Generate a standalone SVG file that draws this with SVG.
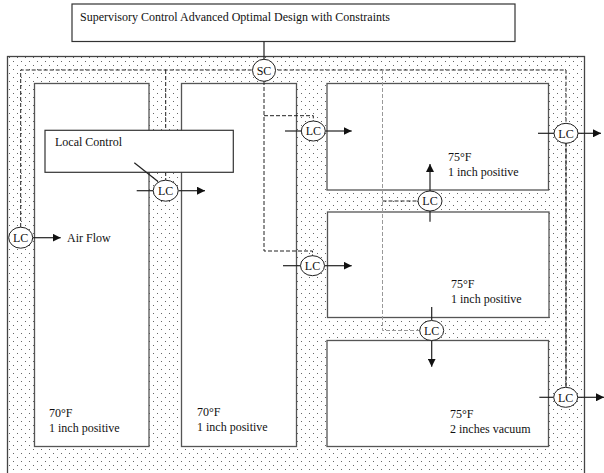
<svg xmlns="http://www.w3.org/2000/svg" width="604" height="473" viewBox="0 0 604 473">
<style>
text{font-family:"Liberation Serif","Times New Roman",serif;font-size:12px;fill:#111}
.c{text-anchor:middle}
.box{fill:#fff;stroke:#555;stroke-width:1.3}
.ctl{fill:#fff;stroke:#333;stroke-width:1.2}
.dash{fill:none;stroke:#222;stroke-width:1;stroke-dasharray:4,2}
.gdash{fill:none;stroke:#999;stroke-width:1;stroke-dasharray:4,2}
.ln{fill:none;stroke:#222;stroke-width:1.2}
.arr{fill:none;stroke:#222;stroke-width:1.2;marker-end:url(#ah)}
.node{fill:#fff;stroke:#222;stroke-width:1}
</style>
<defs>
<pattern id="dots" x="0" y="0" width="8" height="8" patternUnits="userSpaceOnUse">
<rect x="1" y="1" width="1" height="1" fill="#666"/>
<rect x="5" y="5" width="1" height="1" fill="#666"/>
</pattern>
<marker id="ah" viewBox="0 0 10 10" refX="10" refY="5" markerWidth="8" markerHeight="8" markerUnits="userSpaceOnUse" orient="auto">
<path d="M0,0 L10,5 L0,10 Z" fill="#111"/>
</marker>
</defs>

<g id="supervisory">
<rect class="ctl" x="72" y="4" width="443" height="37.5"/>
<text x="80" y="21">Supervisory Control Advanced Optimal Design with Constraints</text>
</g>

<g id="building">
<rect x="7.5" y="56.5" width="577" height="440" fill="url(#dots)" stroke="#444" stroke-width="1.3"/>
</g>

<g id="zone1">
<rect class="box" x="34.5" y="83.5" width="114.5" height="363"/>
<text x="49" y="417">70°F</text>
<text x="49" y="432">1 inch positive</text>
</g>
<g id="zone2">
<rect class="box" x="181.5" y="83.5" width="115" height="363"/>
<text x="197" y="415.5">70°F</text>
<text x="197" y="431">1 inch positive</text>
</g>
<g id="zone3">
<rect class="box" x="327" y="83.5" width="221.5" height="106.5"/>
<text x="448" y="160.5">75°F</text>
<text x="448" y="175.5">1 inch positive</text>
</g>
<g id="zone4">
<rect class="box" x="327.5" y="212" width="221.5" height="105.5"/>
<text x="451" y="288">75°F</text>
<text x="451" y="303">1 inch positive</text>
</g>
<g id="zone5">
<rect class="box" x="327" y="340.5" width="221.5" height="106"/>
<text x="450" y="418">75°F</text>
<text x="450" y="432.5">2 inches vacuum</text>
</g>

<g id="connectors">
<line class="ln" x1="264" y1="41.5" x2="264" y2="59"/>
<path class="dash" d="M20.7,227 V70 H566 V387"/>
<path class="dash" d="M165.7,70 V180"/>
<path class="dash" d="M264,81 V251 H312.5 V256"/>
<path class="dash" d="M264,115.7 H313.3 V121"/>
<path class="gdash" d="M382.5,70 V330.5 H420"/>
<path class="dash" d="M382.5,201 H418"/>
<path class="dash" d="M566,143 V387"/>
</g>

<g id="local-control">
<rect class="ctl" x="45" y="130.3" width="188.3" height="42"/>
<text x="55" y="146">Local Control</text>
</g>

<g id="flows">
<line class="ln" x1="134.3" y1="162.7" x2="158" y2="181.5"/>
<line class="ln" x1="136.7" y1="190.7" x2="153" y2="190.7"/>
<line class="arr" x1="178.5" y1="190.7" x2="205" y2="190.7"/>
<line class="arr" x1="32.7" y1="237.7" x2="60.7" y2="237.7"/>
<text x="67" y="242">Air Flow</text>
<line class="ln" x1="285" y1="131" x2="301" y2="131"/>
<line class="arr" x1="325.5" y1="131" x2="351.7" y2="131"/>
<line class="ln" x1="538" y1="133.3" x2="554" y2="133.3"/>
<line class="arr" x1="578" y1="133.3" x2="601" y2="133.3"/>
<line class="ln" x1="430" y1="211" x2="430" y2="221.7"/>
<line class="arr" x1="430" y1="191" x2="430" y2="164"/>
<line class="ln" x1="283" y1="265.7" x2="300.5" y2="265.7"/>
<line class="arr" x1="324.5" y1="265.7" x2="351.7" y2="265.7"/>
<line class="ln" x1="431.7" y1="307" x2="431.7" y2="320"/>
<line class="arr" x1="431.7" y1="340" x2="431.7" y2="366.7"/>
<line class="ln" x1="539.3" y1="397.3" x2="553.7" y2="397.3"/>
<line class="arr" x1="577.7" y1="397.3" x2="604" y2="397.3"/>
</g>

<g id="SC"><ellipse class="node" cx="264" cy="70.3" rx="11.5" ry="11"/><text class="c" x="264" y="74.5">SC</text></g>
<g id="LC-west"><ellipse class="node" cx="20.7" cy="237.7" rx="12" ry="10.5"/><text class="c" x="20.7" y="242">LC</text></g>
<g id="LC-zone1"><ellipse class="node" cx="165.7" cy="190.7" rx="12.5" ry="10.5"/><text class="c" x="165.7" y="195">LC</text></g>
<g id="LC-zone2-upper"><ellipse class="node" cx="313.3" cy="131" rx="12" ry="10"/><text class="c" x="313.3" y="135.3">LC</text></g>
<g id="LC-zone2-lower"><ellipse class="node" cx="312.5" cy="265.7" rx="12" ry="10"/><text class="c" x="312.5" y="270">LC</text></g>
<g id="LC-zone3"><ellipse class="node" cx="566" cy="133.3" rx="12" ry="10"/><text class="c" x="566" y="137.6">LC</text></g>
<g id="LC-zone34"><ellipse class="node" cx="430" cy="201" rx="12" ry="10"/><text class="c" x="430" y="205.3">LC</text></g>
<g id="LC-zone45"><ellipse class="node" cx="431.7" cy="330.5" rx="12" ry="10"/><text class="c" x="431.7" y="334.8">LC</text></g>
<g id="LC-zone5"><ellipse class="node" cx="565.7" cy="397.3" rx="12" ry="10"/><text class="c" x="565.7" y="401.6">LC</text></g>
</svg>
